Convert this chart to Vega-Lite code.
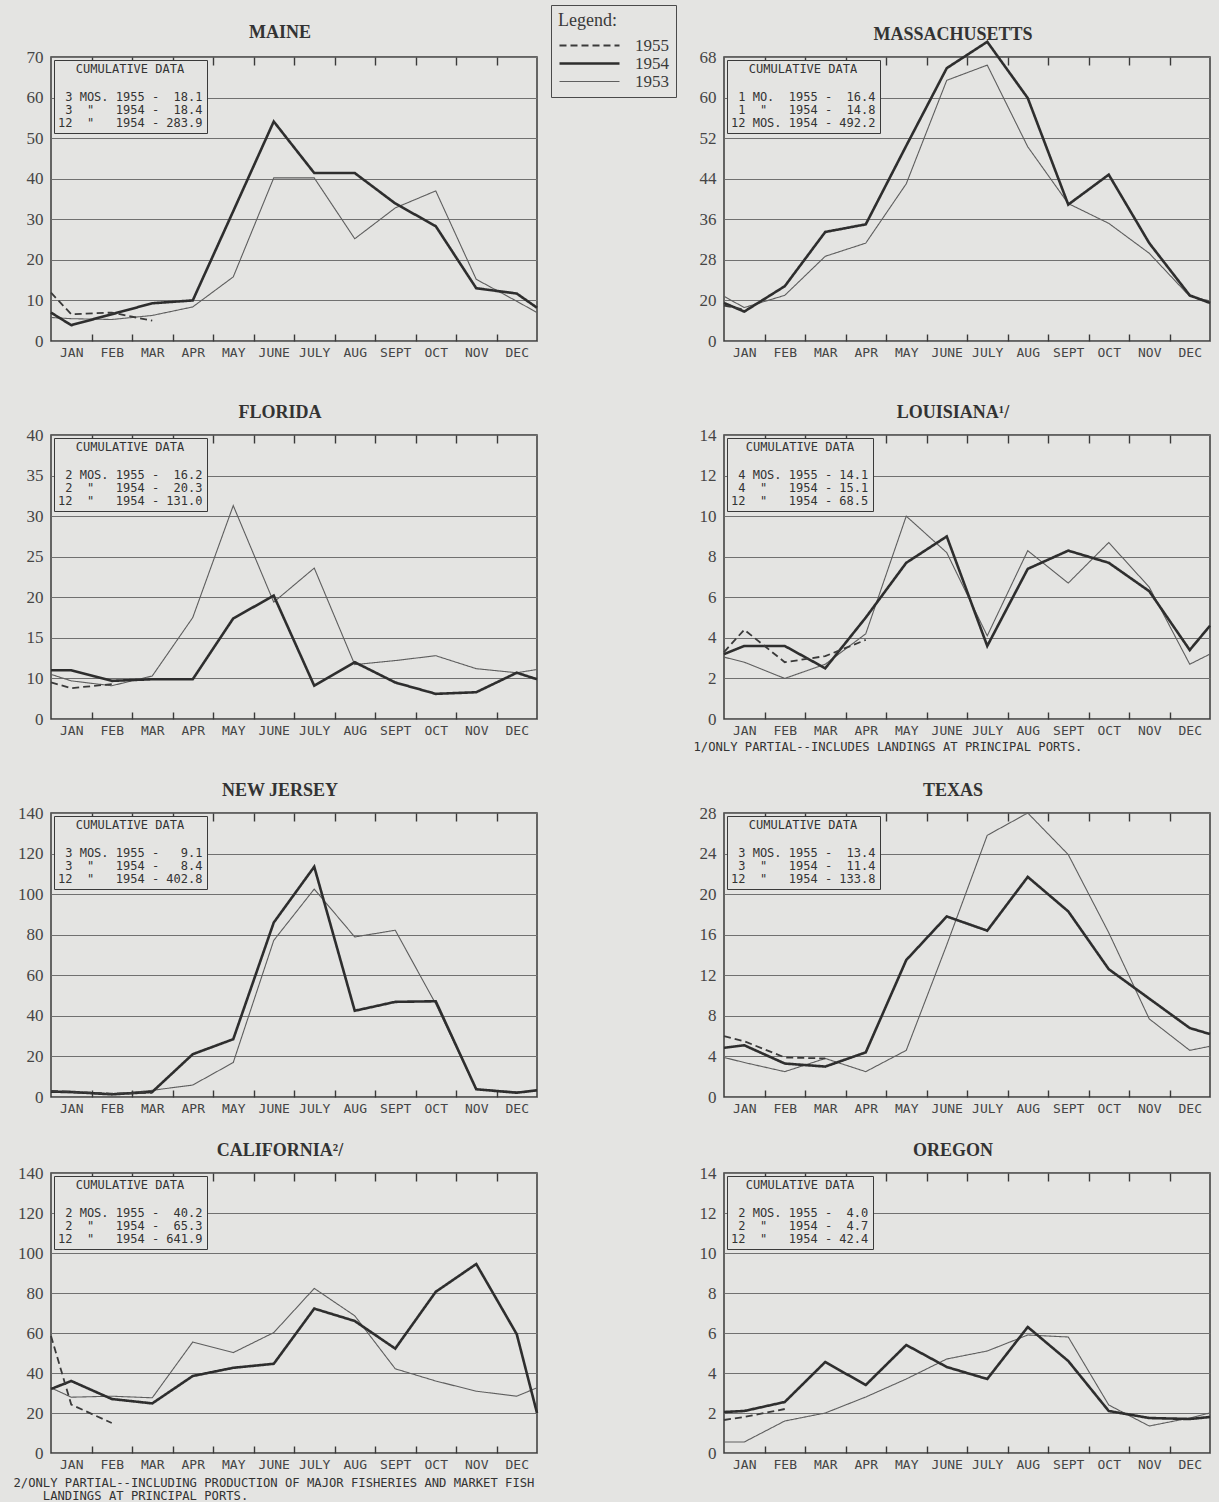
{
"$schema":"https://vega.github.io/schema/vega-lite/v6.json",
"padding":{"left":12,"top":3,"right":4,"bottom":0},
"background":"#e4e4e2",
"columns":2,
"spacing":{"row":21,"column":14},
"align":"each",
"bounds":"full",
"resolve":{"scale":{"color":"independent","strokeDash":"independent","strokeWidth":"independent","shape":"independent"},"legend":{"color":"independent","strokeDash":"independent","strokeWidth":"independent","shape":"independent"}},
"datasets":{
"lines":[
{"state":"ME","year":"1953","m":0,"v":5.8},{"state":"ME","year":"1953","m":0.5,"v":5.5},{"state":"ME","year":"1953","m":1.5,"v":5.3},{"state":"ME","year":"1953","m":2.5,"v":6.3},{"state":"ME","year":"1953","m":3.5,"v":8.4},{"state":"ME","year":"1953","m":4.5,"v":15.8},{"state":"ME","year":"1953","m":5.5,"v":40.2},{"state":"ME","year":"1953","m":6.5,"v":40.2},{"state":"ME","year":"1953","m":7.5,"v":25.2},{"state":"ME","year":"1953","m":8.5,"v":32.8},{"state":"ME","year":"1953","m":9.5,"v":37},{"state":"ME","year":"1953","m":10.5,"v":15.2},{"state":"ME","year":"1953","m":11.5,"v":9.8},{"state":"ME","year":"1953","m":12,"v":7},
{"state":"ME","year":"1954","m":0,"v":7},{"state":"ME","year":"1954","m":0.5,"v":3.9},{"state":"ME","year":"1954","m":1.5,"v":6.6},{"state":"ME","year":"1954","m":2.5,"v":9.3},{"state":"ME","year":"1954","m":3.5,"v":10},{"state":"ME","year":"1954","m":4.5,"v":32},{"state":"ME","year":"1954","m":5.5,"v":54.1},{"state":"ME","year":"1954","m":6.5,"v":41.4},{"state":"ME","year":"1954","m":7.5,"v":41.4},{"state":"ME","year":"1954","m":8.5,"v":33.9},{"state":"ME","year":"1954","m":9.5,"v":28.3},{"state":"ME","year":"1954","m":10.5,"v":13},{"state":"ME","year":"1954","m":11.5,"v":11.7},{"state":"ME","year":"1954","m":12,"v":8.2},
{"state":"ME","year":"1955","m":0,"v":11.9},{"state":"ME","year":"1955","m":0.5,"v":6.6},{"state":"ME","year":"1955","m":1.5,"v":7},{"state":"ME","year":"1955","m":2.5,"v":5},
{"state":"MA","year":"1953","m":0,"v":20.8},{"state":"MA","year":"1953","m":0.5,"v":18.6},{"state":"MA","year":"1953","m":1.5,"v":21},{"state":"MA","year":"1953","m":2.5,"v":28.7},{"state":"MA","year":"1953","m":3.5,"v":31.3},{"state":"MA","year":"1953","m":4.5,"v":43},{"state":"MA","year":"1953","m":5.5,"v":63.4},{"state":"MA","year":"1953","m":6.5,"v":66.4},{"state":"MA","year":"1953","m":7.5,"v":50.3},{"state":"MA","year":"1953","m":8.5,"v":39.1},{"state":"MA","year":"1953","m":9.5,"v":35.2},{"state":"MA","year":"1953","m":10.5,"v":29.3},{"state":"MA","year":"1953","m":11.5,"v":20.8},{"state":"MA","year":"1953","m":12,"v":19.9},
{"state":"MA","year":"1954","m":0,"v":19.5},{"state":"MA","year":"1954","m":0.5,"v":17.8},{"state":"MA","year":"1954","m":1.5,"v":22.8},{"state":"MA","year":"1954","m":2.5,"v":33.5},{"state":"MA","year":"1954","m":3.5,"v":35},{"state":"MA","year":"1954","m":4.5,"v":50.5},{"state":"MA","year":"1954","m":5.5,"v":65.8},{"state":"MA","year":"1954","m":6.5,"v":71},{"state":"MA","year":"1954","m":7.5,"v":59.9},{"state":"MA","year":"1954","m":8.5,"v":38.9},{"state":"MA","year":"1954","m":9.5,"v":44.8},{"state":"MA","year":"1954","m":10.5,"v":31.3},{"state":"MA","year":"1954","m":11.5,"v":21},{"state":"MA","year":"1954","m":12,"v":19.5},
{"state":"MA","year":"1955","m":0,"v":19},{"state":"MA","year":"1955","m":0.5,"v":18.2},
{"state":"FL","year":"1953","m":0,"v":10.5},{"state":"FL","year":"1953","m":0.5,"v":9.7},{"state":"FL","year":"1953","m":1.5,"v":9.1},{"state":"FL","year":"1953","m":2.5,"v":10.3},{"state":"FL","year":"1953","m":3.5,"v":17.5},{"state":"FL","year":"1953","m":4.5,"v":31.3},{"state":"FL","year":"1953","m":5.5,"v":19.4},{"state":"FL","year":"1953","m":6.5,"v":23.6},{"state":"FL","year":"1953","m":7.5,"v":11.7},{"state":"FL","year":"1953","m":8.5,"v":12.2},{"state":"FL","year":"1953","m":9.5,"v":12.8},{"state":"FL","year":"1953","m":10.5,"v":11.2},{"state":"FL","year":"1953","m":11.5,"v":10.7},{"state":"FL","year":"1953","m":12,"v":11.1},
{"state":"FL","year":"1954","m":0,"v":11},{"state":"FL","year":"1954","m":0.5,"v":11},{"state":"FL","year":"1954","m":1.5,"v":9.7},{"state":"FL","year":"1954","m":2.5,"v":9.9},{"state":"FL","year":"1954","m":3.5,"v":9.9},{"state":"FL","year":"1954","m":4.5,"v":17.4},{"state":"FL","year":"1954","m":5.5,"v":20.2},{"state":"FL","year":"1954","m":6.5,"v":9.1},{"state":"FL","year":"1954","m":7.5,"v":12},{"state":"FL","year":"1954","m":8.5,"v":9.5},{"state":"FL","year":"1954","m":9.5,"v":8.1},{"state":"FL","year":"1954","m":10.5,"v":8.3},{"state":"FL","year":"1954","m":11.5,"v":10.7},{"state":"FL","year":"1954","m":12,"v":9.9},
{"state":"FL","year":"1955","m":0,"v":9.5},{"state":"FL","year":"1955","m":0.5,"v":8.8},{"state":"FL","year":"1955","m":1.5,"v":9.3},
{"state":"LA","year":"1953","m":0,"v":3.05},{"state":"LA","year":"1953","m":0.5,"v":2.8},{"state":"LA","year":"1953","m":1.5,"v":2},{"state":"LA","year":"1953","m":2.5,"v":2.7},{"state":"LA","year":"1953","m":3.5,"v":4.2},{"state":"LA","year":"1953","m":4.5,"v":10},{"state":"LA","year":"1953","m":5.5,"v":8.2},{"state":"LA","year":"1953","m":6.5,"v":4.1},{"state":"LA","year":"1953","m":7.5,"v":8.3},{"state":"LA","year":"1953","m":8.5,"v":6.7},{"state":"LA","year":"1953","m":9.5,"v":8.7},{"state":"LA","year":"1953","m":10.5,"v":6.5},{"state":"LA","year":"1953","m":11.5,"v":2.7},{"state":"LA","year":"1953","m":12,"v":3.2},
{"state":"LA","year":"1954","m":0,"v":3.2},{"state":"LA","year":"1954","m":0.5,"v":3.6},{"state":"LA","year":"1954","m":1.5,"v":3.6},{"state":"LA","year":"1954","m":2.5,"v":2.5},{"state":"LA","year":"1954","m":3.5,"v":5},{"state":"LA","year":"1954","m":4.5,"v":7.7},{"state":"LA","year":"1954","m":5.5,"v":9},{"state":"LA","year":"1954","m":6.5,"v":3.6},{"state":"LA","year":"1954","m":7.5,"v":7.4},{"state":"LA","year":"1954","m":8.5,"v":8.3},{"state":"LA","year":"1954","m":9.5,"v":7.7},{"state":"LA","year":"1954","m":10.5,"v":6.3},{"state":"LA","year":"1954","m":11.5,"v":3.4},{"state":"LA","year":"1954","m":12,"v":4.6},
{"state":"LA","year":"1955","m":0,"v":3.3},{"state":"LA","year":"1955","m":0.5,"v":4.4},{"state":"LA","year":"1955","m":1.5,"v":2.8},{"state":"LA","year":"1955","m":2.5,"v":3.1},{"state":"LA","year":"1955","m":3.5,"v":3.9},
{"state":"NJ","year":"1953","m":0,"v":2.5},{"state":"NJ","year":"1953","m":0.5,"v":2.1},{"state":"NJ","year":"1953","m":1.5,"v":1.3},{"state":"NJ","year":"1953","m":2.5,"v":3.3},{"state":"NJ","year":"1953","m":3.5,"v":5.9},{"state":"NJ","year":"1953","m":4.5,"v":17},{"state":"NJ","year":"1953","m":5.5,"v":77.2},{"state":"NJ","year":"1953","m":6.5,"v":102.5},{"state":"NJ","year":"1953","m":7.5,"v":78.9},{"state":"NJ","year":"1953","m":8.5,"v":82.2},{"state":"NJ","year":"1953","m":9.5,"v":45.9},{"state":"NJ","year":"1953","m":10.5,"v":3.8},{"state":"NJ","year":"1953","m":11.5,"v":2.6},{"state":"NJ","year":"1953","m":12,"v":3},
{"state":"NJ","year":"1954","m":0,"v":2.6},{"state":"NJ","year":"1954","m":0.5,"v":2.5},{"state":"NJ","year":"1954","m":1.5,"v":1.3},{"state":"NJ","year":"1954","m":2.5,"v":2.5},{"state":"NJ","year":"1954","m":3.5,"v":21.1},{"state":"NJ","year":"1954","m":4.5,"v":28.5},{"state":"NJ","year":"1954","m":5.5,"v":86},{"state":"NJ","year":"1954","m":6.5,"v":113.5},{"state":"NJ","year":"1954","m":7.5,"v":42.5},{"state":"NJ","year":"1954","m":8.5,"v":46.9},{"state":"NJ","year":"1954","m":9.5,"v":47.2},{"state":"NJ","year":"1954","m":10.5,"v":3.8},{"state":"NJ","year":"1954","m":11.5,"v":2.1},{"state":"NJ","year":"1954","m":12,"v":3.3},
{"state":"NJ","year":"1955","m":0,"v":3},{"state":"NJ","year":"1955","m":0.5,"v":2.5},{"state":"NJ","year":"1955","m":1.5,"v":1.7},{"state":"NJ","year":"1955","m":2.5,"v":2.1},
{"state":"TX","year":"1953","m":0,"v":3.9},{"state":"TX","year":"1953","m":0.5,"v":3.4},{"state":"TX","year":"1953","m":1.5,"v":2.5},{"state":"TX","year":"1953","m":2.5,"v":3.8},{"state":"TX","year":"1953","m":3.5,"v":2.5},{"state":"TX","year":"1953","m":4.5,"v":4.6},{"state":"TX","year":"1953","m":5.5,"v":15},{"state":"TX","year":"1953","m":6.5,"v":25.8},{"state":"TX","year":"1953","m":7.5,"v":28},{"state":"TX","year":"1953","m":8.5,"v":23.9},{"state":"TX","year":"1953","m":9.5,"v":16.2},{"state":"TX","year":"1953","m":10.5,"v":7.7},{"state":"TX","year":"1953","m":11.5,"v":4.6},{"state":"TX","year":"1953","m":12,"v":5},
{"state":"TX","year":"1954","m":0,"v":4.85},{"state":"TX","year":"1954","m":0.5,"v":5.1},{"state":"TX","year":"1954","m":1.5,"v":3.3},{"state":"TX","year":"1954","m":2.5,"v":3},{"state":"TX","year":"1954","m":3.5,"v":4.4},{"state":"TX","year":"1954","m":4.5,"v":13.5},{"state":"TX","year":"1954","m":5.5,"v":17.8},{"state":"TX","year":"1954","m":6.5,"v":16.4},{"state":"TX","year":"1954","m":7.5,"v":21.7},{"state":"TX","year":"1954","m":8.5,"v":18.3},{"state":"TX","year":"1954","m":9.5,"v":12.6},{"state":"TX","year":"1954","m":10.5,"v":9.7},{"state":"TX","year":"1954","m":11.5,"v":6.8},{"state":"TX","year":"1954","m":12,"v":6.2},
{"state":"TX","year":"1955","m":0,"v":6},{"state":"TX","year":"1955","m":0.5,"v":5.5},{"state":"TX","year":"1955","m":1.5,"v":3.9},{"state":"TX","year":"1955","m":2.5,"v":3.8},
{"state":"CA","year":"1953","m":0,"v":32.6},{"state":"CA","year":"1953","m":0.5,"v":27.9},{"state":"CA","year":"1953","m":1.5,"v":28.4},{"state":"CA","year":"1953","m":2.5,"v":27.6},{"state":"CA","year":"1953","m":3.5,"v":55.5},{"state":"CA","year":"1953","m":4.5,"v":50.2},{"state":"CA","year":"1953","m":5.5,"v":60.2},{"state":"CA","year":"1953","m":6.5,"v":82.3},{"state":"CA","year":"1953","m":7.5,"v":68.6},{"state":"CA","year":"1953","m":8.5,"v":42.1},{"state":"CA","year":"1953","m":9.5,"v":36},{"state":"CA","year":"1953","m":10.5,"v":30.9},{"state":"CA","year":"1953","m":11.5,"v":28.4},{"state":"CA","year":"1953","m":12,"v":32.6},
{"state":"CA","year":"1954","m":0,"v":32},{"state":"CA","year":"1954","m":0.5,"v":36},{"state":"CA","year":"1954","m":1.5,"v":27},{"state":"CA","year":"1954","m":2.5,"v":24.8},{"state":"CA","year":"1954","m":3.5,"v":38.5},{"state":"CA","year":"1954","m":4.5,"v":42.6},{"state":"CA","year":"1954","m":5.5,"v":44.6},{"state":"CA","year":"1954","m":6.5,"v":72.2},{"state":"CA","year":"1954","m":7.5,"v":66},{"state":"CA","year":"1954","m":8.5,"v":52.2},{"state":"CA","year":"1954","m":9.5,"v":80.6},{"state":"CA","year":"1954","m":10.5,"v":94.5},{"state":"CA","year":"1954","m":11.5,"v":59.4},{"state":"CA","year":"1954","m":12,"v":20},
{"state":"CA","year":"1955","m":0,"v":58.5},{"state":"CA","year":"1955","m":0.5,"v":24.2},{"state":"CA","year":"1955","m":1.5,"v":15},
{"state":"OR","year":"1953","m":0,"v":0.55},{"state":"OR","year":"1953","m":0.5,"v":0.55},{"state":"OR","year":"1953","m":1.5,"v":1.6},{"state":"OR","year":"1953","m":2.5,"v":2},{"state":"OR","year":"1953","m":3.5,"v":2.8},{"state":"OR","year":"1953","m":4.5,"v":3.7},{"state":"OR","year":"1953","m":5.5,"v":4.7},{"state":"OR","year":"1953","m":6.5,"v":5.1},{"state":"OR","year":"1953","m":7.5,"v":5.9},{"state":"OR","year":"1953","m":8.5,"v":5.8},{"state":"OR","year":"1953","m":9.5,"v":2.4},{"state":"OR","year":"1953","m":10.5,"v":1.35},{"state":"OR","year":"1953","m":11.5,"v":1.75},{"state":"OR","year":"1953","m":12,"v":2},
{"state":"OR","year":"1954","m":0,"v":2.05},{"state":"OR","year":"1954","m":0.5,"v":2.1},{"state":"OR","year":"1954","m":1.5,"v":2.55},{"state":"OR","year":"1954","m":2.5,"v":4.55},{"state":"OR","year":"1954","m":3.5,"v":3.4},{"state":"OR","year":"1954","m":4.5,"v":5.4},{"state":"OR","year":"1954","m":5.5,"v":4.3},{"state":"OR","year":"1954","m":6.5,"v":3.7},{"state":"OR","year":"1954","m":7.5,"v":6.3},{"state":"OR","year":"1954","m":8.5,"v":4.6},{"state":"OR","year":"1954","m":9.5,"v":2.1},{"state":"OR","year":"1954","m":10.5,"v":1.75},{"state":"OR","year":"1954","m":11.5,"v":1.7},{"state":"OR","year":"1954","m":12,"v":1.8},
{"state":"OR","year":"1955","m":0,"v":1.65},{"state":"OR","year":"1955","m":0.5,"v":1.8},{"state":"OR","year":"1955","m":1.5,"v":2.2}
],
"cum":[
{"state":"ME","line":"\u200b\u00a03\u00a0MOS.\u00a01955\u00a0-\u00a0\u00a018.1"},{"state":"ME","line":"\u200b\u00a03\u00a0\u00a0\"\u00a0\u00a0\u00a01954\u00a0-\u00a0\u00a018.4"},{"state":"ME","line":"12\u00a0\u00a0\"\u00a0\u00a0\u00a01954\u00a0-\u00a0283.9"},
{"state":"MA","line":"\u200b\u00a01\u00a0MO.\u00a0\u00a01955\u00a0-\u00a0\u00a016.4"},{"state":"MA","line":"\u200b\u00a01\u00a0\u00a0\"\u00a0\u00a0\u00a01954\u00a0-\u00a0\u00a014.8"},{"state":"MA","line":"12\u00a0MOS.\u00a01954\u00a0-\u00a0492.2"},
{"state":"FL","line":"\u200b\u00a02\u00a0MOS.\u00a01955\u00a0-\u00a0\u00a016.2"},{"state":"FL","line":"\u200b\u00a02\u00a0\u00a0\"\u00a0\u00a0\u00a01954\u00a0-\u00a0\u00a020.3"},{"state":"FL","line":"12\u00a0\u00a0\"\u00a0\u00a0\u00a01954\u00a0-\u00a0131.0"},
{"state":"LA","line":"\u200b\u00a04\u00a0MOS.\u00a01955\u00a0-\u00a014.1"},{"state":"LA","line":"\u200b\u00a04\u00a0\u00a0\"\u00a0\u00a0\u00a01954\u00a0-\u00a015.1"},{"state":"LA","line":"12\u00a0\u00a0\"\u00a0\u00a0\u00a01954\u00a0-\u00a068.5"},
{"state":"NJ","line":"\u200b\u00a03\u00a0MOS.\u00a01955\u00a0-\u00a0\u00a0\u00a09.1"},{"state":"NJ","line":"\u200b\u00a03\u00a0\u00a0\"\u00a0\u00a0\u00a01954\u00a0-\u00a0\u00a0\u00a08.4"},{"state":"NJ","line":"12\u00a0\u00a0\"\u00a0\u00a0\u00a01954\u00a0-\u00a0402.8"},
{"state":"TX","line":"\u200b\u00a03\u00a0MOS.\u00a01955\u00a0-\u00a0\u00a013.4"},{"state":"TX","line":"\u200b\u00a03\u00a0\u00a0\"\u00a0\u00a0\u00a01954\u00a0-\u00a0\u00a011.4"},{"state":"TX","line":"12\u00a0\u00a0\"\u00a0\u00a0\u00a01954\u00a0-\u00a0133.8"},
{"state":"CA","line":"\u200b\u00a02\u00a0MOS.\u00a01955\u00a0-\u00a0\u00a040.2"},{"state":"CA","line":"\u200b\u00a02\u00a0\u00a0\"\u00a0\u00a0\u00a01954\u00a0-\u00a0\u00a065.3"},{"state":"CA","line":"12\u00a0\u00a0\"\u00a0\u00a0\u00a01954\u00a0-\u00a0641.9"},
{"state":"OR","line":"\u200b\u00a02\u00a0MOS.\u00a01955\u00a0-\u00a0\u00a04.0"},{"state":"OR","line":"\u200b\u00a02\u00a0\u00a0\"\u00a0\u00a0\u00a01954\u00a0-\u00a0\u00a04.7"},{"state":"OR","line":"12\u00a0\u00a0\"\u00a0\u00a0\u00a01954\u00a0-\u00a042.4"}
]
},
"concat":[
{"width":486,"height":284,"title":{"text":"MAINE","offset":-37},"resolve":{"axis":{"x":"independent","y":"independent"}},"layer":[
{"data":{"name":"lines"},"transform":[{"filter":"datum.state == 'ME'"}],"mark":{"type":"line","strokeJoin":"miter"},
"encoding":{
"x":{"field":"m","type":"quantitative","scale":{"domain":[0,12],"nice":false,"zero":false},"axis":{"values":[0,1,2,3,4,5,6,7,8,9,10,11],"labelExpr":"['JAN','FEB','MAR','APR','MAY','JUNE','JULY','AUG','SEPT','OCT','NOV','DEC'][datum.value]","labelOffset":20.25,"title":"\u00a0","titleFontSize":14,"titlePadding":7.5}},
"y":{"field":"v","type":"quantitative","scale":{"domain":[0,70],"nice":false,"zero":false},"axis":{"values":[0,10,20,30,40,50,60,70],"title":null}},
"color":{"field":"year","type":"nominal","scale":{"domain":["1955","1954","1953"],"range":["#3a3a3a","#2e2e2e","#5e5e5e"]},"legend":{"title":"Legend:","orient":"none","legendX":500,"legendY":-52,"padding":7,"strokeColor":"#4a4a4a","fillColor":"#e4e4e2","symbolType":"stroke","symbolSize":3600,"clipHeight":17,"rowPadding":0,"labelOffset":14,"labelFont":"Liberation Serif","labelFontSize":17,"labelColor":"#3a3a3a","labelLimit":200,"titleFont":"Liberation Serif","titleFontSize":18,"titleFontWeight":"normal","titleColor":"#3a3a3a","titleAnchor":"start","titlePadding":7}},
"strokeDash":{"field":"year","type":"nominal","scale":{"domain":["1955","1954","1953"],"range":[[7,4],[1,0],[1,0]]},"legend":{"title":"Legend:","orient":"none","legendX":500,"legendY":-52,"padding":7,"strokeColor":"#4a4a4a","fillColor":"#e4e4e2","symbolType":"stroke","symbolSize":3600,"clipHeight":17,"rowPadding":0,"labelOffset":14,"labelFont":"Liberation Serif","labelFontSize":17,"labelColor":"#3a3a3a","labelLimit":200,"titleFont":"Liberation Serif","titleFontSize":18,"titleFontWeight":"normal","titleColor":"#3a3a3a","titleAnchor":"start","titlePadding":7}},
"strokeWidth":{"field":"year","type":"ordinal","scale":{"type":"ordinal","domain":["1955","1954","1953"],"range":[1.8,2.6,1.1]},"legend":{"title":"Legend:","orient":"none","legendX":500,"legendY":-52,"padding":7,"strokeColor":"#4a4a4a","fillColor":"#e4e4e2","symbolType":"stroke","symbolSize":3600,"clipHeight":17,"rowPadding":0,"labelOffset":14,"labelFont":"Liberation Serif","labelFontSize":17,"labelColor":"#3a3a3a","labelLimit":200,"titleFont":"Liberation Serif","titleFontSize":18,"titleFontWeight":"normal","titleColor":"#3a3a3a","titleAnchor":"start","titlePadding":7}}
}},
{"data":{"name":"lines"},"transform":[{"filter":"datum.state == 'ME'"}],"mark":{"type":"point","opacity":0},"encoding":{"x":{"field":"m","type":"quantitative","scale":{"domain":[0,12],"nice":false,"zero":false},"axis":{"orient":"top","values":[1,2,3,4,5,6,7,8,9,10,11],"labels":false,"ticks":true,"tickSize":8,"offset":-8,"tickColor":"#3a3a3a","tickWidth":1.4,"title":null}},"y":{"field":"v","type":"quantitative","scale":{"domain":[0,70],"nice":false,"zero":false},"axis":null}}},
{"data":{"name":"lines"},"transform":[{"filter":"datum.state == 'ME'"}],"mark":{"type":"point","opacity":0},"encoding":{"x":{"field":"m","type":"quantitative","scale":{"domain":[0,12],"nice":false,"zero":false},"axis":{"orient":"bottom","values":[1,2,3,4,5,6,7,8,9,10,11],"labels":false,"ticks":true,"tickSize":7,"offset":-7,"tickColor":"#3a3a3a","tickWidth":1.4,"title":null}},"y":{"field":"v","type":"quantitative","scale":{"domain":[0,70],"nice":false,"zero":false},"axis":null}}},
{"data":{"name":"cum"},"transform":[{"filter":"datum.state == 'ME'"}],"mark":{"type":"point","opacity":0},"encoding":{"shape":{"field":"line","type":"nominal","sort":null,"legend":{"title":"CUMULATIVE DATA","orient":"top-left","offset":3,"padding":4,"strokeColor":"#3a3a3a","fillColor":"#e4e4e2","symbolSize":1,"symbolStrokeWidth":0,"symbolOpacity":0,"labelOffset":-12,"clipHeight":13,"rowPadding":0,"labelFont":"DejaVu Sans Mono","labelFontSize":12,"labelColor":"#333333","labelLimit":400,"titleFont":"DejaVu Sans Mono","titleFontSize":12,"titleFontWeight":"normal","titleColor":"#333333","titleAnchor":"middle","titlePadding":14}}}}
]},
{"width":486,"height":284,"title":{"text":"MASSACHUSETTS","offset":-7},"resolve":{"axis":{"x":"independent","y":"independent"}},"layer":[
{"data":{"name":"lines"},"transform":[{"filter":"datum.state == 'MA'"}],"mark":{"type":"line","strokeJoin":"miter"},
"encoding":{
"x":{"field":"m","type":"quantitative","scale":{"domain":[0,12],"nice":false,"zero":false},"axis":{"values":[0,1,2,3,4,5,6,7,8,9,10,11],"labelExpr":"['JAN','FEB','MAR','APR','MAY','JUNE','JULY','AUG','SEPT','OCT','NOV','DEC'][datum.value]","labelOffset":20.25,"title":"\u00a0","titleFontSize":14,"titlePadding":7.5}},
"y":{"field":"v","type":"quantitative","scale":{"domain":[12,68],"nice":false,"zero":false},"axis":{"values":[12,20,28,36,44,52,60,68],"labelExpr":"datum.value == 12 ? '0' : datum.label","title":null}},
"color":{"field":"year","type":"nominal","scale":{"domain":["1955","1954","1953"],"range":["#3a3a3a","#2e2e2e","#5e5e5e"]},"legend":null},
"strokeDash":{"field":"year","type":"nominal","scale":{"domain":["1955","1954","1953"],"range":[[7,4],[1,0],[1,0]]},"legend":null},
"strokeWidth":{"field":"year","type":"ordinal","scale":{"type":"ordinal","domain":["1955","1954","1953"],"range":[1.8,2.6,1.1]},"legend":null}
}},
{"data":{"name":"lines"},"transform":[{"filter":"datum.state == 'MA'"}],"mark":{"type":"point","opacity":0},"encoding":{"x":{"field":"m","type":"quantitative","scale":{"domain":[0,12],"nice":false,"zero":false},"axis":{"orient":"top","values":[1,2,3,4,5,6,7,8,9,10,11],"labels":false,"ticks":true,"tickSize":8,"offset":-8,"tickColor":"#3a3a3a","tickWidth":1.4,"title":null}},"y":{"field":"v","type":"quantitative","scale":{"domain":[12,68],"nice":false,"zero":false},"axis":null}}},
{"data":{"name":"lines"},"transform":[{"filter":"datum.state == 'MA'"}],"mark":{"type":"point","opacity":0},"encoding":{"x":{"field":"m","type":"quantitative","scale":{"domain":[0,12],"nice":false,"zero":false},"axis":{"orient":"bottom","values":[1,2,3,4,5,6,7,8,9,10,11],"labels":false,"ticks":true,"tickSize":7,"offset":-7,"tickColor":"#3a3a3a","tickWidth":1.4,"title":null}},"y":{"field":"v","type":"quantitative","scale":{"domain":[12,68],"nice":false,"zero":false},"axis":null}}},
{"data":{"name":"cum"},"transform":[{"filter":"datum.state == 'MA'"}],"mark":{"type":"point","opacity":0},"encoding":{"shape":{"field":"line","type":"nominal","sort":null,"legend":{"title":"CUMULATIVE DATA","orient":"top-left","offset":3,"padding":4,"strokeColor":"#3a3a3a","fillColor":"#e4e4e2","symbolSize":1,"symbolStrokeWidth":0,"symbolOpacity":0,"labelOffset":-12,"clipHeight":13,"rowPadding":0,"labelFont":"DejaVu Sans Mono","labelFontSize":12,"labelColor":"#333333","labelLimit":400,"titleFont":"DejaVu Sans Mono","titleFontSize":12,"titleFontWeight":"normal","titleColor":"#333333","titleAnchor":"middle","titlePadding":14}}}}
]},
{"width":486,"height":284,"title":"FLORIDA","resolve":{"axis":{"x":"independent","y":"independent"}},"layer":[
{"data":{"name":"lines"},"transform":[{"filter":"datum.state == 'FL'"}],"mark":{"type":"line","strokeJoin":"miter"},
"encoding":{
"x":{"field":"m","type":"quantitative","scale":{"domain":[0,12],"nice":false,"zero":false},"axis":{"values":[0,1,2,3,4,5,6,7,8,9,10,11],"labelExpr":"['JAN','FEB','MAR','APR','MAY','JUNE','JULY','AUG','SEPT','OCT','NOV','DEC'][datum.value]","labelOffset":20.25,"title":"\u00a0","titleFontSize":14,"titlePadding":7.5}},
"y":{"field":"v","type":"quantitative","scale":{"domain":[5,40],"nice":false,"zero":false},"axis":{"values":[5,10,15,20,25,30,35,40],"labelExpr":"datum.value == 5 ? '0' : datum.label","title":null}},
"color":{"field":"year","type":"nominal","scale":{"domain":["1955","1954","1953"],"range":["#3a3a3a","#2e2e2e","#5e5e5e"]},"legend":null},
"strokeDash":{"field":"year","type":"nominal","scale":{"domain":["1955","1954","1953"],"range":[[7,4],[1,0],[1,0]]},"legend":null},
"strokeWidth":{"field":"year","type":"ordinal","scale":{"type":"ordinal","domain":["1955","1954","1953"],"range":[1.8,2.6,1.1]},"legend":null}
}},
{"data":{"name":"lines"},"transform":[{"filter":"datum.state == 'FL'"}],"mark":{"type":"point","opacity":0},"encoding":{"x":{"field":"m","type":"quantitative","scale":{"domain":[0,12],"nice":false,"zero":false},"axis":{"orient":"top","values":[1,2,3,4,5,6,7,8,9,10,11],"labels":false,"ticks":true,"tickSize":8,"offset":-8,"tickColor":"#3a3a3a","tickWidth":1.4,"title":null}},"y":{"field":"v","type":"quantitative","scale":{"domain":[5,40],"nice":false,"zero":false},"axis":null}}},
{"data":{"name":"lines"},"transform":[{"filter":"datum.state == 'FL'"}],"mark":{"type":"point","opacity":0},"encoding":{"x":{"field":"m","type":"quantitative","scale":{"domain":[0,12],"nice":false,"zero":false},"axis":{"orient":"bottom","values":[1,2,3,4,5,6,7,8,9,10,11],"labels":false,"ticks":true,"tickSize":7,"offset":-7,"tickColor":"#3a3a3a","tickWidth":1.4,"title":null}},"y":{"field":"v","type":"quantitative","scale":{"domain":[5,40],"nice":false,"zero":false},"axis":null}}},
{"data":{"name":"cum"},"transform":[{"filter":"datum.state == 'FL'"}],"mark":{"type":"point","opacity":0},"encoding":{"shape":{"field":"line","type":"nominal","sort":null,"legend":{"title":"CUMULATIVE DATA","orient":"top-left","offset":3,"padding":4,"strokeColor":"#3a3a3a","fillColor":"#e4e4e2","symbolSize":1,"symbolStrokeWidth":0,"symbolOpacity":0,"labelOffset":-12,"clipHeight":13,"rowPadding":0,"labelFont":"DejaVu Sans Mono","labelFontSize":12,"labelColor":"#333333","labelLimit":400,"titleFont":"DejaVu Sans Mono","titleFontSize":12,"titleFontWeight":"normal","titleColor":"#333333","titleAnchor":"middle","titlePadding":14}}}}
]},
{"width":486,"height":284,"title":"LOUISIANA\u00b9/","resolve":{"axis":{"x":"independent","y":"independent"}},"layer":[
{"data":{"name":"lines"},"transform":[{"filter":"datum.state == 'LA'"}],"mark":{"type":"line","strokeJoin":"miter"},
"encoding":{
"x":{"field":"m","type":"quantitative","scale":{"domain":[0,12],"nice":false,"zero":false},"axis":{"values":[0,1,2,3,4,5,6,7,8,9,10,11],"labelExpr":"['JAN','FEB','MAR','APR','MAY','JUNE','JULY','AUG','SEPT','OCT','NOV','DEC'][datum.value]","labelOffset":20.25,"title":"1/ONLY PARTIAL--INCLUDES LANDINGS AT PRINCIPAL PORTS.","titleX":-31,"titleY":31,"titleAlign":"left","titleAnchor":"start","titleBaseline":"alphabetic"}},
"y":{"field":"v","type":"quantitative","scale":{"domain":[0,14],"nice":false,"zero":false},"axis":{"values":[0,2,4,6,8,10,12,14],"title":null}},
"color":{"field":"year","type":"nominal","scale":{"domain":["1955","1954","1953"],"range":["#3a3a3a","#2e2e2e","#5e5e5e"]},"legend":null},
"strokeDash":{"field":"year","type":"nominal","scale":{"domain":["1955","1954","1953"],"range":[[7,4],[1,0],[1,0]]},"legend":null},
"strokeWidth":{"field":"year","type":"ordinal","scale":{"type":"ordinal","domain":["1955","1954","1953"],"range":[1.8,2.6,1.1]},"legend":null}
}},
{"data":{"name":"lines"},"transform":[{"filter":"datum.state == 'LA'"}],"mark":{"type":"point","opacity":0},"encoding":{"x":{"field":"m","type":"quantitative","scale":{"domain":[0,12],"nice":false,"zero":false},"axis":{"orient":"top","values":[1,2,3,4,5,6,7,8,9,10,11],"labels":false,"ticks":true,"tickSize":8,"offset":-8,"tickColor":"#3a3a3a","tickWidth":1.4,"title":null}},"y":{"field":"v","type":"quantitative","scale":{"domain":[0,14],"nice":false,"zero":false},"axis":null}}},
{"data":{"name":"lines"},"transform":[{"filter":"datum.state == 'LA'"}],"mark":{"type":"point","opacity":0},"encoding":{"x":{"field":"m","type":"quantitative","scale":{"domain":[0,12],"nice":false,"zero":false},"axis":{"orient":"bottom","values":[1,2,3,4,5,6,7,8,9,10,11],"labels":false,"ticks":true,"tickSize":7,"offset":-7,"tickColor":"#3a3a3a","tickWidth":1.4,"title":null}},"y":{"field":"v","type":"quantitative","scale":{"domain":[0,14],"nice":false,"zero":false},"axis":null}}},
{"data":{"name":"cum"},"transform":[{"filter":"datum.state == 'LA'"}],"mark":{"type":"point","opacity":0},"encoding":{"shape":{"field":"line","type":"nominal","sort":null,"legend":{"title":"CUMULATIVE DATA","orient":"top-left","offset":3,"padding":4,"strokeColor":"#3a3a3a","fillColor":"#e4e4e2","symbolSize":1,"symbolStrokeWidth":0,"symbolOpacity":0,"labelOffset":-12,"clipHeight":13,"rowPadding":0,"labelFont":"DejaVu Sans Mono","labelFontSize":12,"labelColor":"#333333","labelLimit":400,"titleFont":"DejaVu Sans Mono","titleFontSize":12,"titleFontWeight":"normal","titleColor":"#333333","titleAnchor":"middle","titlePadding":14}}}}
]},
{"width":486,"height":284,"title":"NEW JERSEY","resolve":{"axis":{"x":"independent","y":"independent"}},"layer":[
{"data":{"name":"lines"},"transform":[{"filter":"datum.state == 'NJ'"}],"mark":{"type":"line","strokeJoin":"miter"},
"encoding":{
"x":{"field":"m","type":"quantitative","scale":{"domain":[0,12],"nice":false,"zero":false},"axis":{"values":[0,1,2,3,4,5,6,7,8,9,10,11],"labelExpr":"['JAN','FEB','MAR','APR','MAY','JUNE','JULY','AUG','SEPT','OCT','NOV','DEC'][datum.value]","labelOffset":20.25,"title":"\u00a0","titleFontSize":4,"titlePadding":0}},
"y":{"field":"v","type":"quantitative","scale":{"domain":[0,140],"nice":false,"zero":false},"axis":{"values":[0,20,40,60,80,100,120,140],"title":null}},
"color":{"field":"year","type":"nominal","scale":{"domain":["1955","1954","1953"],"range":["#3a3a3a","#2e2e2e","#5e5e5e"]},"legend":null},
"strokeDash":{"field":"year","type":"nominal","scale":{"domain":["1955","1954","1953"],"range":[[7,4],[1,0],[1,0]]},"legend":null},
"strokeWidth":{"field":"year","type":"ordinal","scale":{"type":"ordinal","domain":["1955","1954","1953"],"range":[1.8,2.6,1.1]},"legend":null}
}},
{"data":{"name":"lines"},"transform":[{"filter":"datum.state == 'NJ'"}],"mark":{"type":"point","opacity":0},"encoding":{"x":{"field":"m","type":"quantitative","scale":{"domain":[0,12],"nice":false,"zero":false},"axis":{"orient":"top","values":[1,2,3,4,5,6,7,8,9,10,11],"labels":false,"ticks":true,"tickSize":8,"offset":-8,"tickColor":"#3a3a3a","tickWidth":1.4,"title":null}},"y":{"field":"v","type":"quantitative","scale":{"domain":[0,140],"nice":false,"zero":false},"axis":null}}},
{"data":{"name":"lines"},"transform":[{"filter":"datum.state == 'NJ'"}],"mark":{"type":"point","opacity":0},"encoding":{"x":{"field":"m","type":"quantitative","scale":{"domain":[0,12],"nice":false,"zero":false},"axis":{"orient":"bottom","values":[1,2,3,4,5,6,7,8,9,10,11],"labels":false,"ticks":true,"tickSize":7,"offset":-7,"tickColor":"#3a3a3a","tickWidth":1.4,"title":null}},"y":{"field":"v","type":"quantitative","scale":{"domain":[0,140],"nice":false,"zero":false},"axis":null}}},
{"data":{"name":"cum"},"transform":[{"filter":"datum.state == 'NJ'"}],"mark":{"type":"point","opacity":0},"encoding":{"shape":{"field":"line","type":"nominal","sort":null,"legend":{"title":"CUMULATIVE DATA","orient":"top-left","offset":3,"padding":4,"strokeColor":"#3a3a3a","fillColor":"#e4e4e2","symbolSize":1,"symbolStrokeWidth":0,"symbolOpacity":0,"labelOffset":-12,"clipHeight":13,"rowPadding":0,"labelFont":"DejaVu Sans Mono","labelFontSize":12,"labelColor":"#333333","labelLimit":400,"titleFont":"DejaVu Sans Mono","titleFontSize":12,"titleFontWeight":"normal","titleColor":"#333333","titleAnchor":"middle","titlePadding":14}}}}
]},
{"width":486,"height":284,"title":"TEXAS","resolve":{"axis":{"x":"independent","y":"independent"}},"layer":[
{"data":{"name":"lines"},"transform":[{"filter":"datum.state == 'TX'"}],"mark":{"type":"line","strokeJoin":"miter"},
"encoding":{
"x":{"field":"m","type":"quantitative","scale":{"domain":[0,12],"nice":false,"zero":false},"axis":{"values":[0,1,2,3,4,5,6,7,8,9,10,11],"labelExpr":"['JAN','FEB','MAR','APR','MAY','JUNE','JULY','AUG','SEPT','OCT','NOV','DEC'][datum.value]","labelOffset":20.25,"title":"\u00a0","titleFontSize":4,"titlePadding":0}},
"y":{"field":"v","type":"quantitative","scale":{"domain":[0,28],"nice":false,"zero":false},"axis":{"values":[0,4,8,12,16,20,24,28],"title":null}},
"color":{"field":"year","type":"nominal","scale":{"domain":["1955","1954","1953"],"range":["#3a3a3a","#2e2e2e","#5e5e5e"]},"legend":null},
"strokeDash":{"field":"year","type":"nominal","scale":{"domain":["1955","1954","1953"],"range":[[7,4],[1,0],[1,0]]},"legend":null},
"strokeWidth":{"field":"year","type":"ordinal","scale":{"type":"ordinal","domain":["1955","1954","1953"],"range":[1.8,2.6,1.1]},"legend":null}
}},
{"data":{"name":"lines"},"transform":[{"filter":"datum.state == 'TX'"}],"mark":{"type":"point","opacity":0},"encoding":{"x":{"field":"m","type":"quantitative","scale":{"domain":[0,12],"nice":false,"zero":false},"axis":{"orient":"top","values":[1,2,3,4,5,6,7,8,9,10,11],"labels":false,"ticks":true,"tickSize":8,"offset":-8,"tickColor":"#3a3a3a","tickWidth":1.4,"title":null}},"y":{"field":"v","type":"quantitative","scale":{"domain":[0,28],"nice":false,"zero":false},"axis":null}}},
{"data":{"name":"lines"},"transform":[{"filter":"datum.state == 'TX'"}],"mark":{"type":"point","opacity":0},"encoding":{"x":{"field":"m","type":"quantitative","scale":{"domain":[0,12],"nice":false,"zero":false},"axis":{"orient":"bottom","values":[1,2,3,4,5,6,7,8,9,10,11],"labels":false,"ticks":true,"tickSize":7,"offset":-7,"tickColor":"#3a3a3a","tickWidth":1.4,"title":null}},"y":{"field":"v","type":"quantitative","scale":{"domain":[0,28],"nice":false,"zero":false},"axis":null}}},
{"data":{"name":"cum"},"transform":[{"filter":"datum.state == 'TX'"}],"mark":{"type":"point","opacity":0},"encoding":{"shape":{"field":"line","type":"nominal","sort":null,"legend":{"title":"CUMULATIVE DATA","orient":"top-left","offset":3,"padding":4,"strokeColor":"#3a3a3a","fillColor":"#e4e4e2","symbolSize":1,"symbolStrokeWidth":0,"symbolOpacity":0,"labelOffset":-12,"clipHeight":13,"rowPadding":0,"labelFont":"DejaVu Sans Mono","labelFontSize":12,"labelColor":"#333333","labelLimit":400,"titleFont":"DejaVu Sans Mono","titleFontSize":12,"titleFontWeight":"normal","titleColor":"#333333","titleAnchor":"middle","titlePadding":14}}}}
]},
{"width":486,"height":280,"title":"CALIFORNIA\u00b2/","resolve":{"axis":{"x":"independent","y":"independent"}},"layer":[
{"data":{"name":"lines"},"transform":[{"filter":"datum.state == 'CA'"}],"mark":{"type":"line","strokeJoin":"miter"},
"encoding":{
"x":{"field":"m","type":"quantitative","scale":{"domain":[0,12],"nice":false,"zero":false},"axis":{"values":[0,1,2,3,4,5,6,7,8,9,10,11],"labelExpr":"['JAN','FEB','MAR','APR','MAY','JUNE','JULY','AUG','SEPT','OCT','NOV','DEC'][datum.value]","labelOffset":20.25,"title":["2/ONLY PARTIAL--INCLUDING PRODUCTION OF MAJOR FISHERIES AND MARKET FISH","\u200b\u00a0\u00a0\u00a0\u00a0LANDINGS AT PRINCIPAL PORTS."],"titleX":-38,"titleY":33,"titleAlign":"left","titleAnchor":"start","titleBaseline":"alphabetic","titleLineHeight":13}},
"y":{"field":"v","type":"quantitative","scale":{"domain":[0,140],"nice":false,"zero":false},"axis":{"values":[0,20,40,60,80,100,120,140],"title":null}},
"color":{"field":"year","type":"nominal","scale":{"domain":["1955","1954","1953"],"range":["#3a3a3a","#2e2e2e","#5e5e5e"]},"legend":null},
"strokeDash":{"field":"year","type":"nominal","scale":{"domain":["1955","1954","1953"],"range":[[7,4],[1,0],[1,0]]},"legend":null},
"strokeWidth":{"field":"year","type":"ordinal","scale":{"type":"ordinal","domain":["1955","1954","1953"],"range":[1.8,2.6,1.1]},"legend":null}
}},
{"data":{"name":"lines"},"transform":[{"filter":"datum.state == 'CA'"}],"mark":{"type":"point","opacity":0},"encoding":{"x":{"field":"m","type":"quantitative","scale":{"domain":[0,12],"nice":false,"zero":false},"axis":{"orient":"top","values":[1,2,3,4,5,6,7,8,9,10,11],"labels":false,"ticks":true,"tickSize":8,"offset":-8,"tickColor":"#3a3a3a","tickWidth":1.4,"title":null}},"y":{"field":"v","type":"quantitative","scale":{"domain":[0,140],"nice":false,"zero":false},"axis":null}}},
{"data":{"name":"lines"},"transform":[{"filter":"datum.state == 'CA'"}],"mark":{"type":"point","opacity":0},"encoding":{"x":{"field":"m","type":"quantitative","scale":{"domain":[0,12],"nice":false,"zero":false},"axis":{"orient":"bottom","values":[1,2,3,4,5,6,7,8,9,10,11],"labels":false,"ticks":true,"tickSize":7,"offset":-7,"tickColor":"#3a3a3a","tickWidth":1.4,"title":null}},"y":{"field":"v","type":"quantitative","scale":{"domain":[0,140],"nice":false,"zero":false},"axis":null}}},
{"data":{"name":"cum"},"transform":[{"filter":"datum.state == 'CA'"}],"mark":{"type":"point","opacity":0},"encoding":{"shape":{"field":"line","type":"nominal","sort":null,"legend":{"title":"CUMULATIVE DATA","orient":"top-left","offset":3,"padding":4,"strokeColor":"#3a3a3a","fillColor":"#e4e4e2","symbolSize":1,"symbolStrokeWidth":0,"symbolOpacity":0,"labelOffset":-12,"clipHeight":13,"rowPadding":0,"labelFont":"DejaVu Sans Mono","labelFontSize":12,"labelColor":"#333333","labelLimit":400,"titleFont":"DejaVu Sans Mono","titleFontSize":12,"titleFontWeight":"normal","titleColor":"#333333","titleAnchor":"middle","titlePadding":14}}}}
]},
{"width":486,"height":280,"title":"OREGON","resolve":{"axis":{"x":"independent","y":"independent"}},"layer":[
{"data":{"name":"lines"},"transform":[{"filter":"datum.state == 'OR'"}],"mark":{"type":"line","strokeJoin":"miter"},
"encoding":{
"x":{"field":"m","type":"quantitative","scale":{"domain":[0,12],"nice":false,"zero":false},"axis":{"values":[0,1,2,3,4,5,6,7,8,9,10,11],"labelExpr":"['JAN','FEB','MAR','APR','MAY','JUNE','JULY','AUG','SEPT','OCT','NOV','DEC'][datum.value]","labelOffset":20.25,"title":null}},
"y":{"field":"v","type":"quantitative","scale":{"domain":[0,14],"nice":false,"zero":false},"axis":{"values":[0,2,4,6,8,10,12,14],"title":null}},
"color":{"field":"year","type":"nominal","scale":{"domain":["1955","1954","1953"],"range":["#3a3a3a","#2e2e2e","#5e5e5e"]},"legend":null},
"strokeDash":{"field":"year","type":"nominal","scale":{"domain":["1955","1954","1953"],"range":[[7,4],[1,0],[1,0]]},"legend":null},
"strokeWidth":{"field":"year","type":"ordinal","scale":{"type":"ordinal","domain":["1955","1954","1953"],"range":[1.8,2.6,1.1]},"legend":null}
}},
{"data":{"name":"lines"},"transform":[{"filter":"datum.state == 'OR'"}],"mark":{"type":"point","opacity":0},"encoding":{"x":{"field":"m","type":"quantitative","scale":{"domain":[0,12],"nice":false,"zero":false},"axis":{"orient":"top","values":[1,2,3,4,5,6,7,8,9,10,11],"labels":false,"ticks":true,"tickSize":8,"offset":-8,"tickColor":"#3a3a3a","tickWidth":1.4,"title":null}},"y":{"field":"v","type":"quantitative","scale":{"domain":[0,14],"nice":false,"zero":false},"axis":null}}},
{"data":{"name":"lines"},"transform":[{"filter":"datum.state == 'OR'"}],"mark":{"type":"point","opacity":0},"encoding":{"x":{"field":"m","type":"quantitative","scale":{"domain":[0,12],"nice":false,"zero":false},"axis":{"orient":"bottom","values":[1,2,3,4,5,6,7,8,9,10,11],"labels":false,"ticks":true,"tickSize":7,"offset":-7,"tickColor":"#3a3a3a","tickWidth":1.4,"title":null}},"y":{"field":"v","type":"quantitative","scale":{"domain":[0,14],"nice":false,"zero":false},"axis":null}}},
{"data":{"name":"cum"},"transform":[{"filter":"datum.state == 'OR'"}],"mark":{"type":"point","opacity":0},"encoding":{"shape":{"field":"line","type":"nominal","sort":null,"legend":{"title":"CUMULATIVE DATA","orient":"top-left","offset":3,"padding":4,"strokeColor":"#3a3a3a","fillColor":"#e4e4e2","symbolSize":1,"symbolStrokeWidth":0,"symbolOpacity":0,"labelOffset":-12,"clipHeight":13,"rowPadding":0,"labelFont":"DejaVu Sans Mono","labelFontSize":12,"labelColor":"#333333","labelLimit":400,"titleFont":"DejaVu Sans Mono","titleFontSize":12,"titleFontWeight":"normal","titleColor":"#333333","titleAnchor":"middle","titlePadding":14}}}}
]}
],
"config":{
"background":"#e4e4e2",
"view":{"stroke":"#3a3a3a","strokeWidth":1.5},
"title":{"font":"Liberation Serif","fontSize":18,"fontWeight":"bold","color":"#333333","offset":4,"frame":"group","anchor":"middle","dx":-14,"baseline":"alphabetic"},
"axisX":{"labelFont":"DejaVu Sans Mono","labelFontSize":13,"labelColor":"#454545","ticks":false,"domain":false,"grid":false,"labelFlush":false,"labelOverlap":false,"labelBound":false,"labelPadding":5,"titleFont":"DejaVu Sans Mono","titleFontSize":12.2,"titleFontWeight":"normal","titleColor":"#333333"},
"axisY":{"labelFont":"Liberation Serif","labelFontSize":17,"labelColor":"#454545","ticks":false,"domain":false,"grid":true,"gridColor":"#707070","gridWidth":1,"labelPadding":8}
}
}
